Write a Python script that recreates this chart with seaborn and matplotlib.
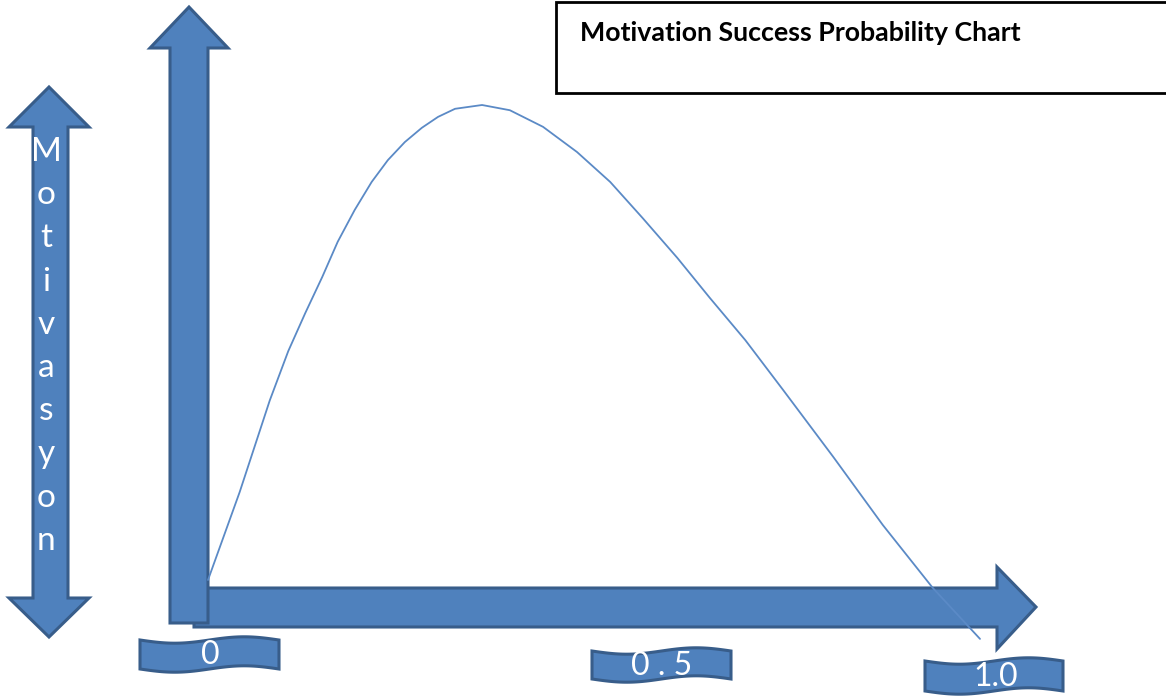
import numpy as np
import pandas as pd
import matplotlib
matplotlib.use("Agg")
import matplotlib.pyplot as plt
from matplotlib.patches import Polygon, Rectangle
import seaborn as sns

# ---- data ----
success_probability = [0.0, 0.041, 0.080, 0.104, 0.126, 0.148, 0.168, 0.190, 0.212,
                       0.233, 0.255, 0.277, 0.298, 0.320, 0.355, 0.391, 0.434, 0.478,
                       0.521, 0.563, 0.608, 0.650, 0.696, 0.745, 0.810, 0.874, 0.939, 1.0]
motivation = [0.0, 0.185, 0.378, 0.482, 0.562, 0.638, 0.712, 0.779, 0.838,
              0.884, 0.922, 0.952, 0.975, 0.992, 1.000, 0.989, 0.954, 0.901,
              0.838, 0.762, 0.678, 0.594, 0.505, 0.400, 0.259, 0.116, -0.017, -0.124]
tick_labels = ["0", "0 . 5", "1.0"]
y_label = "Motivasyon"
title = "Motivation Success Probability Chart"

W, H = 1166, 697
FILL = "#4F81BD"
EDGE = "#385D8A"
LINE = "#5B8AC6"

sns.set_theme(style="white")
plt.rcParams['font.family'] = ['Lato', 'DejaVu Sans']

fig = plt.figure(figsize=(W / 100, H / 100), dpi=100)
bg = fig.add_axes([0, 0, 1, 1])
bg.set_xlim(0, W)
bg.set_ylim(H, 0)
bg.axis("off")


def poly(pts, z=2):
    bg.add_patch(Polygon(pts, closed=True, facecolor=FILL, edgecolor=EDGE,
                         lw=2.2, joinstyle="miter", zorder=z))


# horizontal arrow (x axis)
poly([(194, 588), (997, 588), (997, 567), (1036, 607), (997, 649),
      (997, 627), (194, 627)], z=2)
# vertical arrow (y axis)
poly([(170, 623), (170, 48), (150, 48), (189, 7), (228, 48), (208, 48),
      (208, 623)], z=3)
# left double arrow
poly([(33, 598), (9, 598), (49, 637), (89, 598), (68, 598), (68, 127),
      (89, 127), (49, 87), (9, 127), (33, 127)], z=3)

for i, ch in enumerate(y_label):
    bg.text(46, 152 + i * 43.2, ch, color="white", fontsize=24,
            ha="center", va="center", zorder=4)


# title box
bg.add_patch(Rectangle((556, 2), 640, 91, facecolor="white", edgecolor="black",
                       lw=2, zorder=2, clip_on=True))
bg.text(580, 33, title, fontsize=19.3, fontweight="bold", color="black",
        ha="left", va="center", zorder=3)


# wave banners for tick labels
def banner(x0, x1, ytop, h, amp=3.2):
    t = np.linspace(0, 1, 60)
    xs = x0 + (x1 - x0) * t
    top = ytop + amp * np.sin(2 * np.pi * t)
    bot = top + h
    pts = list(zip(xs, top)) + list(zip(xs[::-1], bot[::-1]))
    poly(pts, z=3)


banners = [(140, 279, 640, 29, 210, 655),
           (592, 731, 651, 28, 662, 666),
           (925, 1063, 661, 30, 996, 677)]
for (x0, x1, yt, h, tx, ty), lab in zip(banners, tick_labels):
    banner(x0, x1, yt, h)
    bg.text(tx, ty, lab, color="white", fontsize=23, ha="center", va="center",
            zorder=4)

# data axes for the curve: x 0->px 208, 1->px 980 ; y 0->px 580, 1->px 105
ax = fig.add_axes([208 / W, (H - 580) / H, (980 - 208) / W, 475 / H])
ax.patch.set_alpha(0)
df = pd.DataFrame({"p": success_probability, "m": motivation})
sns.lineplot(data=df, x="p", y="m", ax=ax, color=LINE, lw=1.3, sort=False)
for l in ax.lines:
    l.set_clip_on(False)
    l.set_solid_joinstyle("round")
ax.set_xlim(0, 1)
ax.set_ylim(0, 1)
ax.axis("off")

fig.savefig("out.png", dpi=100)
